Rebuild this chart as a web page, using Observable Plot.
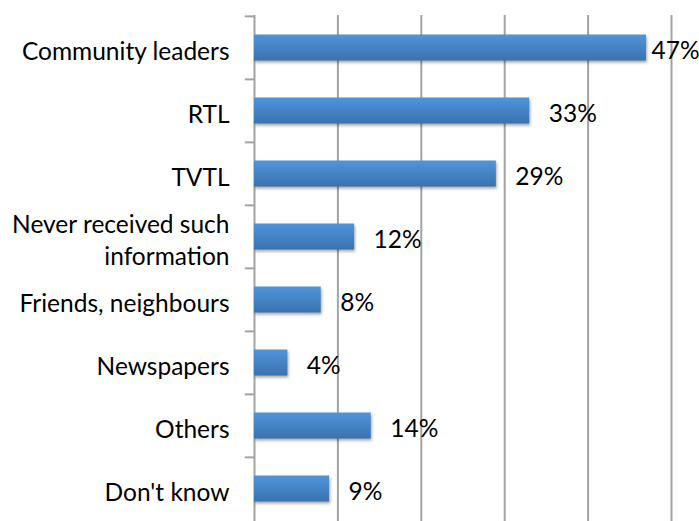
<!DOCTYPE html>
<html><head><meta charset="utf-8">
<script src="https://cdn.jsdelivr.net/npm/d3@7"></script>
<script src="https://cdn.jsdelivr.net/npm/@observablehq/plot@0.6"></script>
<style>
body{margin:0;background:#fff;}
#chart svg{overflow:visible;}
g[aria-label="bar"] rect{filter: drop-shadow(1px 2px 1.5px rgba(0,0,0,0.35));}
</style></head><body>
<svg width="0" height="0" style="position:absolute">
<defs><linearGradient id="barGrad" x1="0" y1="0" x2="0" y2="1">
<stop offset="0" stop-color="#4f95da"/><stop offset="1" stop-color="#3a72b0"/></linearGradient></defs></svg>
<div id="chart"></div>
<script>
const categories = ["Community leaders", "RTL", "TVTL", "Never received such\ninformation", "Friends, neighbours", "Newspapers", "Others", "Don't know"];
const values = [0.47, 0.33, 0.29, 0.12, 0.08, 0.04, 0.14, 0.09];
const valueLabels = ["47%", "33%", "29%", "12%", "8%", "4%", "14%", "9%"];
const xTicks = [0, 0.1, 0.2, 0.3, 0.4, 0.5];

const data = categories.map((c, i) => ({category: c, value: values[i], label: valueLabels[i]}));
const W = 699, H = 521, mT = 15, mB = 0, mL = 254, mR = 28;
const band = (H - mT - mB) / categories.length;
const font = "Lato, sans-serif";
const fs = 24.5;

const chart = Plot.plot({
  width: W, height: H,
  marginTop: mT, marginBottom: mB, marginLeft: mL, marginRight: mR,
  style: {fontFamily: font, background: "#fff"},
  x: {axis: null, domain: [0, 0.5]},
  y: {axis: null, domain: categories, padding: 0},
  marks: [
    Plot.ruleX(xTicks, {stroke: "#a3a3a3", strokeWidth: 2}),
    Plot.ruleY(categories, {y: d => d, x1: -0.011, x2: 0, dy: -band / 2, stroke: "#a3a3a3", strokeWidth: 2}),
    Plot.barX(data, {x: "value", y: "category", fill: "url(#barGrad)", insetTop: 18.5, insetBottom: 18.5}),
    Plot.text(data, {y: "category", text: "category", frameAnchor: "left", textAnchor: "end", dx: -25, dy: 2, fontSize: fs, fill: "#000", lineHeight: 1.27}),
    Plot.text(data.filter(d => d.value < 0.45), {x: "value", y: "category", text: "label", textAnchor: "start", dx: 19, dy: 3, fontSize: fs, fill: "#000"}),
    Plot.text(data.filter(d => d.value >= 0.45), {x: "value", y: "category", text: "label", textAnchor: "start", dx: 5, dy: 3, fontSize: fs, fill: "#000"})
  ]
});
document.getElementById("chart").append(chart);
</script>
</body></html>
